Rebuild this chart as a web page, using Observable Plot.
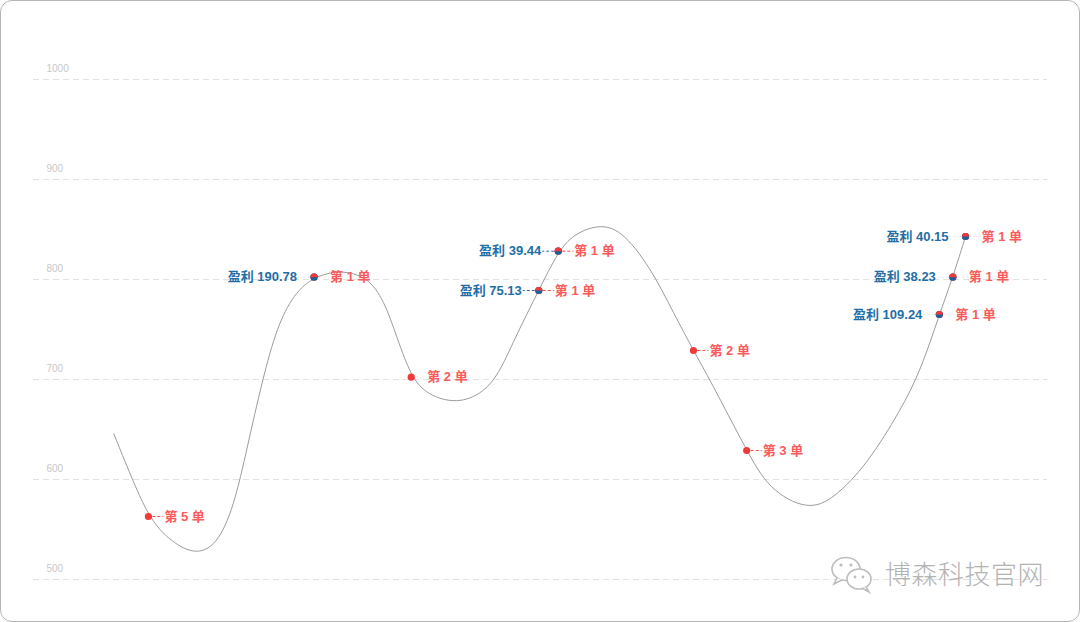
<!DOCTYPE html>
<html>
<head>
<meta charset="utf-8">
<script src="https://cdn.jsdelivr.net/npm/d3@7"></script>
<script src="https://cdn.jsdelivr.net/npm/@observablehq/plot@0.6"></script>
<style>
  html, body { margin: 0; padding: 0; background: #fff; }
  #wrap { position: relative; width: 1080px; height: 622px; overflow: hidden; }
  #chart { position: absolute; left: 0; top: 0; }
  #border { position: absolute; left: 0; top: 0; width: 1080px; height: 622px; box-sizing: border-box;
            border: 1px solid #b5b5b5; border-radius: 12px; pointer-events: none; }
  #wm { position: absolute; left: 885px; top: 555px; font-family: "Noto Sans CJK SC", sans-serif;
        font-size: 26px; line-height: 36px; color: #b3b3b3; font-weight: 300; letter-spacing: 0.5px; }
  #wmicon { position: absolute; left: 826px; top: 552px; }
</style>
</head>
<body>
<div id="wrap">
  <div id="chart"></div>
  <svg id="wmicon" width="52" height="44" viewBox="0 0 52 44">
    <ellipse cx="20" cy="17" rx="14" ry="11.5" fill="#fff" stroke="#bdbdbd" stroke-width="1.6"/>
    <path d="M11 26 L8 32 L16 28" fill="#fff" stroke="#bdbdbd" stroke-width="1.6"/>
    <circle cx="15" cy="13" r="1.6" fill="#bdbdbd"/>
    <circle cx="25" cy="13" r="1.6" fill="#bdbdbd"/>
    <ellipse cx="33" cy="27" rx="12" ry="10" fill="#fff" stroke="#bdbdbd" stroke-width="1.6"/>
    <path d="M40 35 L43 40 L36 36" fill="#fff" stroke="#bdbdbd" stroke-width="1.6"/>
    <circle cx="29" cy="25" r="1.4" fill="#bdbdbd"/>
    <circle cx="37" cy="25" r="1.4" fill="#bdbdbd"/>
  </svg>
  <div id="wm">博森科技官网</div>
  <div id="border"></div>
</div>
<script>
// ---- data ----
// price curve: time index and price
const priceT = [9.5, 11.5, 13.6, 15.8, 19.0, 21.7, 23.7, 25.3, 27.1, 28.8, 30.8, 33.2, 36.3, 39.5, 41.5, 43.0, 44.7, 46.6, 50.1, 53.3, 55.3, 57.2, 59.8, 62.1, 63.9, 66.7, 69.5, 73.0, 75.8, 78.1, 80.1, 84.4, 87.0, 91.6, 94.7, 98.7, 102.6, 105.0, 107.2, 108.8, 110.3];
const priceV = [645.7, 604, 563, 541, 524, 534, 572.3, 632.3, 700, 752.3, 785.7, 803, 809.5, 803, 779, 742.3, 702.3, 684.5, 675.5, 686.5, 709, 745.7, 789, 828.3, 845, 855, 850.5, 812.3, 765.7, 729, 699, 629, 590, 569, 580.5, 615.7, 669, 709, 765, 802.3, 843];

// orders (entries)
const orderT = [13.6, 33.2, 44.7, 59.8, 62.1, 78.1, 84.4, 107.2, 108.8, 110.3];
const orderPrice = [563, 802.3, 702.3, 789, 828.3, 729, 629, 765, 802.3, 843];
const orderNo = [5, 1, 2, 1, 1, 2, 3, 1, 1, 1];

// closed trades with profit
const profitT = [33.2, 59.8, 62.1, 107.2, 108.8, 110.3];
const profitPrice = [802.3, 789, 828.3, 765, 802.3, 843];
const profitValue = ["190.78", "75.13", "39.44", "109.24", "38.23", "40.15"];

const yTicks = [500, 600, 700, 800, 900, 1000];

// ---- build tables ----
const price = priceT.map((t, i) => ({t, v: priceV[i]}));
const orders = orderT.map((t, i) => ({t, v: orderPrice[i], label: "第 " + orderNo[i] + " 单", i}));
const profits = profitT.map((t, i) => ({t, v: profitPrice[i], label: "盈利 " + profitValue[i], i}));

// connectors that are clearly drawn in the reference (others are faint)
const strongOrder = new Set([0, 3, 4, 5, 6]);
const strongProfit = new Set([1, 2]);

const halfTop = {
  draw(ctx, size) {
    const r = Math.sqrt(size / Math.PI);
    ctx.moveTo(r, 0);
    ctx.arc(0, 0, r, 0, Math.PI, true);
    ctx.closePath();
  }
};
const rightLine = { draw(ctx) { ctx.moveTo(4, 0); ctx.lineTo(15, 0); } };
const leftLine = { draw(ctx) { ctx.moveTo(-4, 0); ctx.lineTo(-16, 0); } };

const RED_DOT = "#f03a3a";
const RED_TXT = "#fb5b5b";
const BLUE_DOT = "#1d5f99";
const BLUE_TXT = "#1f6ea6";
const FONT = "'Liberation Sans', 'Noto Sans CJK SC', sans-serif";

const chart = Plot.plot({
  width: 1080,
  height: 622,
  marginLeft: 33,
  marginRight: 33,
  marginTop: 79,
  marginBottom: 43,
  style: {fontFamily: FONT, background: "transparent"},
  x: {domain: [0, 120], axis: null},
  y: {domain: [500, 1000], axis: null},
  marks: [
    Plot.ruleY(yTicks, {stroke: "#e2e2e2", strokeWidth: 1, strokeDasharray: "6,4"}),
    Plot.text(yTicks, {y: d => d, frameAnchor: "left", text: d => String(d), textAnchor: "start",
                       dx: 13, dy: -11, fill: "#c8c8c8", fontSize: 10}),
    Plot.line(price, {x: "t", y: "v", curve: "basis", stroke: "#9c9c9c", strokeWidth: 1}),
    // connectors
    Plot.dot(orders, {x: "t", y: "v", symbol: rightLine, r: 3, fill: "none", stroke: RED_DOT,
                      strokeWidth: 1, strokeDasharray: "3,2",
                      strokeOpacity: d => strongOrder.has(d.i) ? 0.9 : 0.12}),
    Plot.dot(profits, {x: "t", y: "v", symbol: leftLine, r: 3, fill: "none", stroke: BLUE_DOT,
                       strokeWidth: 1, strokeDasharray: "3,2",
                       strokeOpacity: d => strongProfit.has(d.i) ? 0.9 : 0.12}),
    // markers
    Plot.dot(orders, {x: "t", y: "v", r: 3.6, fill: RED_DOT, stroke: "none"}),
    Plot.dot(profits, {x: "t", y: "v", r: 3.6, fill: BLUE_DOT, stroke: "none"}),
    Plot.dot(profits, {x: "t", y: "v", r: 3.6, symbol: halfTop, fill: RED_DOT, stroke: "none"}),
    // labels
    Plot.text(orders, {x: "t", y: "v", text: "label", textAnchor: "start", dx: 16, fill: RED_TXT,
                       fontSize: 13, fontWeight: "bold"}),
    Plot.text(profits, {x: "t", y: "v", text: "label", textAnchor: "end", dx: -17, fill: BLUE_TXT,
                        fontSize: 13, fontWeight: "bold"})
  ]
});
document.getElementById("chart").appendChild(chart);
</script>
</body>
</html>
